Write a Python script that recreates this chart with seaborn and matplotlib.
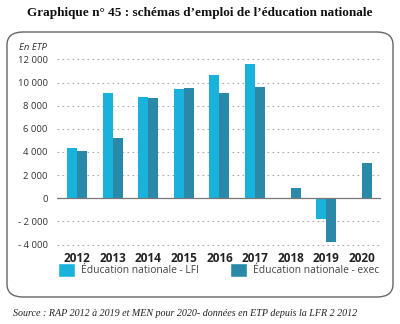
import matplotlib
matplotlib.use("Agg")
import matplotlib.pyplot as plt
import seaborn as sns
import pandas as pd
from matplotlib.patches import FancyBboxPatch, Patch
from matplotlib.ticker import FuncFormatter

years = ["2012", "2013", "2014", "2015", "2016", "2017", "2018", "2019", "2020"]
lfi = [4370, 9070, 8770, 9410, 10670, 11620, 0, -1810, 0]
exe = [4110, 5180, 8690, 9550, 9070, 9610, 910, -3800, 3070]
series = ["Éducation nationale - LFI", "Éducation nationale - exec"]
yticks = [-4000, -2000, 0, 2000, 4000, 6000, 8000, 10000, 12000]

df = pd.DataFrame({
    "year": years * 2,
    "value": lfi + exe,
    "serie": [series[0]] * len(years) + [series[1]] * len(years),
})

sns.set_style("white")
plt.rcParams["font.family"] = ["Open Sans", "DejaVu Sans"]

colors = ["#19b2da", "#2a89a8"]

fig = plt.figure(figsize=(4.0, 3.24), dpi=100)
ax = fig.add_axes([0.1435, 0.238, 0.81, 0.593])

sns.barplot(data=df, x="year", y="value", hue="serie", palette=colors,
            width=0.56, gap=0, saturation=1, ax=ax, legend=False, zorder=3,
            linewidth=0, edgecolor="none")

ax.set_xlim(-0.55, 8.55)
ax.set_ylim(-4200, 12400)
ax.set_yticks(yticks)

def fmt(v, pos):
    v = int(v)
    s = f"{abs(v):,}".replace(",", " ")
    return ("- " + s) if v < 0 else s

ax.yaxis.set_major_formatter(FuncFormatter(fmt))
ax.tick_params(axis="y", length=0, pad=7, labelsize=6.8, labelcolor="#333333")
ax.tick_params(axis="x", length=0, pad=4, labelsize=8.5)
for lab in ax.get_xticklabels():
    lab.set_fontweight("bold")
    lab.set_color("#222222")
for y in yticks:
    if y != 0:
        ax.axhline(y, color="#aaaaaa", linestyle=(0, (1.5, 3)), linewidth=0.8, zorder=1)
ax.axhline(0, color="#777777", linewidth=0.9, zorder=4)
ax.set_xlabel("")
ax.set_ylabel("")
for s in ax.spines.values():
    s.set_visible(False)

fig.text(19 / 400, 1 - 47 / 324, "En ETP", fontsize=6.8, style="italic",
         color="#333333", va="center", ha="left")

for i, xl in enumerate([58 / 400, 230 / 400]):
    fig.legend([Patch(facecolor=colors[i])], [series[i]], loc="center left",
               bbox_to_anchor=(xl, 1 - 270 / 324), frameon=False, fontsize=7.4,
               handlelength=1.65, handleheight=1.65, handletextpad=0.6,
               borderpad=0, borderaxespad=0, labelcolor="#444444")

box = FancyBboxPatch((7 / 400, 1 - 297 / 324), 386 / 400, 265 / 324,
                     boxstyle="round,pad=0,rounding_size=0.04",
                     transform=fig.transFigure, facecolor="none",
                     edgecolor="#666666", linewidth=1.0)
fig.patches.append(box)

fig.text(0.5, 1 - 13 / 324,
         "Graphique n° 45 : schémas d’emploi de l’éducation nationale",
         family=["Liberation Serif"], fontweight="bold", fontsize=9.5,
         ha="center", va="center", color="#111111")
fig.text(13 / 400, 1 - 314 / 324,
         "Source : RAP 2012 à 2019 et MEN pour 2020- données en ETP depuis la LFR 2 2012",
         family=["Liberation Serif"], style="italic", fontsize=7.2,
         ha="left", va="center", color="#222222")

fig.savefig("out.png", dpi=100)
